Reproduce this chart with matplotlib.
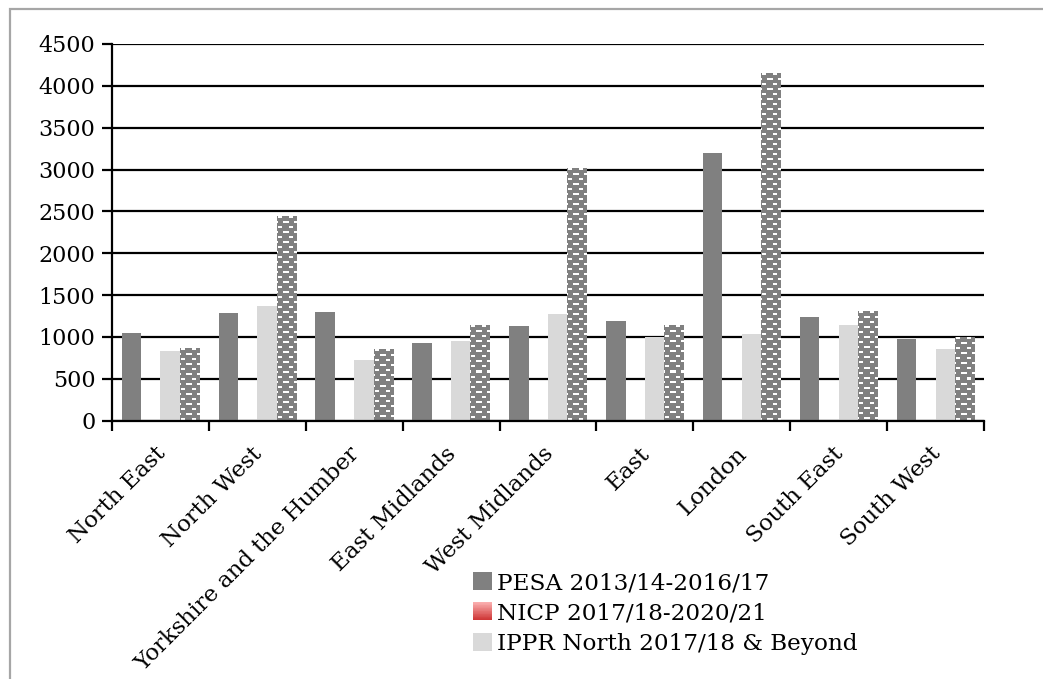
import numpy as np
import matplotlib
matplotlib.use('Agg')
import matplotlib.pyplot as plt
from matplotlib.patches import Rectangle
from matplotlib.legend_handler import HandlerBase
import matplotlib.transforms as mtransforms
from matplotlib.colors import to_rgb

regions = ["North East", "North West", "Yorkshire and the Humber", "East Midlands",
           "West Midlands", "East", "London", "South East", "South West"]
pesa = [1050, 1289, 1301, 925, 1124, 1188, 3193, 1235, 973]
nicp = [0, 0, 0, 0, 0, 0, 0, 0, 0]
ippr = [827, 1364, 722, 953, 1271, 997, 1029, 1140, 853]
fourth = [871, 2447, 853, 1136, 3022, 1136, 4156, 1307, 997]
series_labels = ["PESA 2013/14-2016/17", "NICP 2017/18-2020/21", "IPPR North 2017/18 & Beyond"]
yticks = list(range(0, 4501, 500))

plt.rcParams['font.family'] = ['DejaVu Serif']
FS = 16

W, H = 1043, 679
fig = plt.figure(figsize=(W / 100, H / 100), dpi=100)
ax = fig.add_axes([112 / W, 1 - 420.5 / H, (984 - 112) / W, (420.5 - 44) / H])

n = len(regions)
x = np.arange(n)
bw = 0.2
dark = '#808080'
light = '#d9d9d9'
b1 = ax.bar(x + 0.2, pesa, bw, color=dark, zorder=2, label=series_labels[0])
b2 = ax.bar(x + 0.4, nicp, bw, color='#e06060', zorder=2, label=series_labels[1])
b3 = ax.bar(x + 0.6, ippr, bw, color=light, zorder=2, label=series_labels[2])
b4 = ax.bar(x + 0.8, fourth, bw, color=dark, zorder=2, label='_nolegend_')

ax.set_xlim(0, n)
ax.set_ylim(0, 4500)
ax.set_yticks(yticks)
ax.yaxis.grid(True, color='black', lw=1.6)
ax.set_axisbelow(True)

# brick-like texture for 4th series
px_y = ax.bbox.height / 4500
px_x = ax.bbox.width / n
unit = np.zeros((10, 10))
unit[1:3, 1:5] = 1
unit[6:8, 6:10] = 1
unit[6:8, 0] = 1
gray_rgb = np.array(to_rgb(dark))
for rect in b4:
    x0, w, h = rect.get_x(), rect.get_width(), rect.get_height()
    nr = max(1, int(round(h * px_y)))
    nc = max(1, int(round(w * px_x)))
    tile = np.tile(unit, (nr // 10 + 1, nc // 10 + 1))[:nr, :nc]
    rgb = np.where(tile[..., None] == 1, np.ones(3), gray_rgb)
    im = ax.imshow(rgb, extent=(x0, x0 + w, 0, h), origin='upper',
                   interpolation='nearest', aspect='auto', zorder=2.5)
    im.set_clip_path(rect)
ax.set_xlim(0, n)
ax.set_ylim(0, 4500)
ax.set_aspect('auto')

for s in ['top', 'right']:
    ax.spines[s].set_visible(False)
for s in ['left', 'bottom']:
    ax.spines[s].set_color('black')
    ax.spines[s].set_linewidth(1.6)
    ax.spines[s].set_zorder(3)

ax.set_xticks(np.arange(n + 1))
ax.set_xticklabels([])
ax.set_xticks(x + 0.5, minor=True)
ax.set_xticklabels(regions, minor=True, rotation=45, ha='right', va='top',
                   rotation_mode='anchor', fontsize=16.5)
ax.tick_params(axis='x', which='major', length=7, width=1.6, direction='out', color='black')
ax.tick_params(axis='x', which='minor', length=0, pad=16)
ax.tick_params(axis='y', length=7, width=1.6, direction='out', color='black', labelsize=FS, pad=5)
off = mtransforms.ScaledTranslation(-6 / 100, 0, fig.dpi_scale_trans)
for lab in ax.get_xticklabels(minor=True):
    lab.set_transform(lab.get_transform() + off)


class GradientHandler(HandlerBase):
    def create_artists(self, legend, orig_handle, xdescent, ydescent, width, height, fontsize, trans):
        k = 24
        top = np.array(to_rgb('#fbb0b0'))
        bot = np.array(to_rgb('#cc3030'))
        arts = []
        for i in range(k):
            c = top + (bot - top) * (i + 0.5) / k
            r = Rectangle((-xdescent, -ydescent + height * (k - 1 - i) / k), width, height / k * 1.05,
                          facecolor=c, edgecolor='none', transform=trans)
            arts.append(r)
        return arts


h1 = Rectangle((0, 0), 1, 1, facecolor=dark, edgecolor='none')
h2 = Rectangle((0, 0), 1, 1, facecolor='#e06060', edgecolor='none')
h3 = Rectangle((0, 0), 1, 1, facecolor=light, edgecolor='none')
leg = fig.legend([h1, h2, h3], series_labels, loc='upper left',
                 bbox_to_anchor=(473 / W, 1 - 572 / H), frameon=False, fontsize=16.7,
                 handlelength=0.82, handleheight=0.82, handletextpad=0.2,
                 labelspacing=0.36, borderpad=0, borderaxespad=0,
                 handler_map={h2: GradientHandler()})

# outer border
fig.patches.append(Rectangle((10 / W, -0.1), 1.2, 1 - 9 / H + 0.1, transform=fig.transFigure,
                             fill=False, edgecolor='#a6a6a6', lw=1.6))

fig.savefig('out.png', dpi=100)
